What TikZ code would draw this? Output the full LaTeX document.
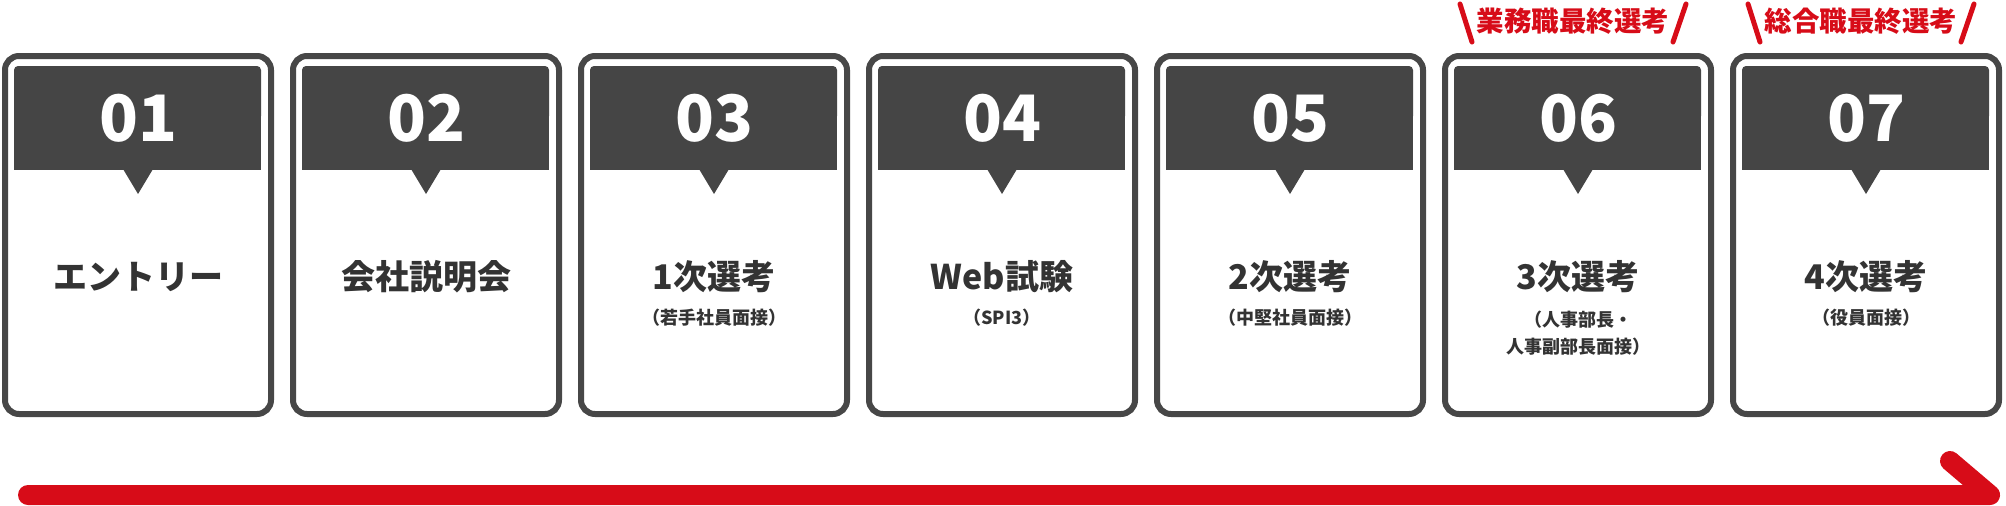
\documentclass[tikz,border=0pt]{standalone}
\usepackage{fontspec}
\setmainfont{Noto Sans CJK JP}
\definecolor{frame}{HTML}{474747}
\definecolor{head}{HTML}{454545}
\definecolor{txt}{HTML}{333333}
\definecolor{accent}{HTML}{D70C18}
\tikzset{
  cardframe/.style={draw=frame, line width=6pt, rounded corners=14pt, fill=white},
  headbox/.style={fill=head},
  numtext/.style={text=white, font=\bfseries\fontsize{64}{64}\selectfont, inner sep=0pt},
  mainlabel/.style={text=txt, font=\bfseries\fontsize{34}{34}\selectfont, inner sep=0pt},
  sublabel/.style={text=txt, font=\bfseries\fontsize{18}{27}\selectfont, inner sep=0pt, align=center},
  redlabel/.style={text=accent, font=\bfseries\fontsize{27.5}{27.5}\selectfont, inner sep=0pt},
  redslash/.style={draw=accent, line width=5pt, line cap=round},
  flowarrow/.style={draw=accent, line width=20pt, line cap=round, line join=round}
}
\begin{document}
\begin{tikzpicture}[x=1pt,y=-1pt]
\useasboundingbox (0,0) rectangle (2006,506);
\foreach \i/\num/\lab/\sub in {1/01/エントリー/,2/02/会社説明会/,3/03/1次選考/（若手社員面接）,4/04/Web試験/（SPI3）,5/05/2次選考/（中堅社員面接）,6/06/3次選考/{（人事部長・\\人事副部長面接）},7/07/4次選考/（役員面接）}{
  \pgfmathsetmacro{\L}{2+288*(\i-1)}
  \pgfmathsetmacro{\C}{\L+136}
  \draw[cardframe] (\L+3,56) rectangle (\L+269,414);
  \fill[headbox, rounded corners=4pt] (\L+12,66) rectangle (\L+259,120);
  \fill[headbox] (\L+12,110) rectangle (\L+259,170);
  \fill[headbox] (\C-15,169) -- (\C+15,169) -- (\C,194) -- cycle;
  \node[numtext] (n\i) at (\C,118) {\num};
  \node[mainlabel] (m\i) at (\C,277) {\lab};
  \ifnum\i=6
    \node[sublabel] (s\i) at (\C,333.5) {\sub};
  \else
    \node[sublabel] (s\i) at (\C,318) {\sub};
  \fi
}
% red labels
\node[redlabel] (r6) at (1442+136-5,21) {業務職最終選考};
\node[redlabel] (r7) at (1730+136-5,21) {総合職最終選考};
\foreach \k in {6,7}{
  \coordinate (a\k) at ([xshift=-113pt]r\k.center |- 0,4);
  \coordinate (b\k) at ([xshift=-101pt]r\k.center |- 0,42);
  \coordinate (c\k) at ([xshift=113pt]r\k.center |- 0,4);
  \coordinate (d\k) at ([xshift=100pt]r\k.center |- 0,42);
  \draw[redslash] (a\k) -- (b\k);
  \draw[redslash] (c\k) -- (d\k);
}
% flow arrow
\coordinate (fa) at (28,495);
\coordinate (fb) at (1990,495);
\coordinate (fc) at (1950,461);
\draw[flowarrow] (fa) -- (fb) -- (fc);
\end{tikzpicture}
\end{document}
